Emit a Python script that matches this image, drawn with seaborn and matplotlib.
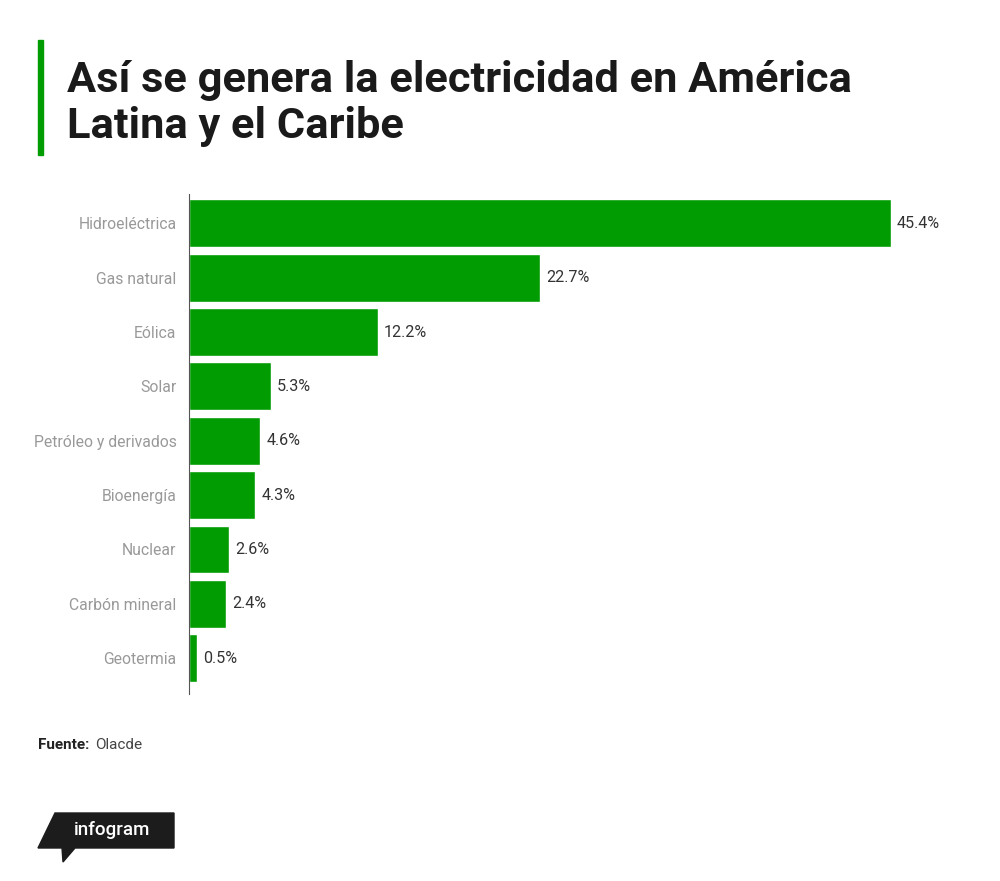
import matplotlib
matplotlib.use('Agg')
import matplotlib.pyplot as plt
from matplotlib.patches import Polygon, Rectangle
import seaborn as sns
import pandas as pd

fuentes = ['Hidroeléctrica', 'Gas natural', 'Eólica', 'Solar', 'Petróleo y derivados',
           'Bioenergía', 'Nuclear', 'Carbón mineral', 'Geotermia']
porcentajes = [45.4, 22.7, 12.2, 5.3, 4.6, 4.3, 2.6, 2.4, 0.5]
titulo = 'Así se genera la electricidad en América\nLatina y el Caribe'

df = pd.DataFrame({'fuente': fuentes, 'pct': porcentajes})

verde = '#019c01'
W, H = 1000, 881

sns.set_style('white')
plt.rcParams['font.family'] = ['Roboto', 'DejaVu Sans']

fig = plt.figure(figsize=(10, 8.81), dpi=100)
ax = fig.add_axes([0.189, 1 - 694 / H, 0.773, 500 / H])

sns.barplot(data=df, x='pct', y='fuente', color=verde, width=0.88,
            saturation=1, ax=ax, orient='h')
ax.set_xlim(0, 50)
ax.set_ylim(8.66, -0.54)
ax.set_xlabel('')
ax.set_ylabel('')
ax.set_xticks([])
for s in ['top', 'right', 'bottom']:
    ax.spines[s].set_visible(False)
ax.spines['left'].set_color('#555555')
ax.spines['left'].set_linewidth(0.8)
ax.tick_params(axis='y', length=0, pad=9, labelsize=11.3, labelcolor='#999999')

for i, v in enumerate(porcentajes):
    ax.text(v + 0.4, i, f'{v}%', va='center', ha='left', fontsize=11.6, color='#333333')

# title
fig.patches.append(Rectangle((38 / W, 1 - 155 / H), 5 / W, 115 / H,
                             transform=fig.transFigure, color=verde))
fig.text(67 / W, 1 - 147 / H, titulo, fontsize=31.2, fontweight='bold',
         color='#1a1a1a', ha='left', va='bottom', linespacing=1.17)

# source
fig.text(38 / W, 1 - 745 / H, 'Fuente:', fontsize=11, fontweight='bold',
         color='#222222', va='center')
fig.text(95 / W, 1 - 745 / H, 'Olacde', fontsize=11, color='#444444', va='center')

# infogram badge
pts = [(55, 813), (174, 813), (174, 848), (75, 848), (63, 862), (62, 848), (38, 848)]
fig.patches.append(Polygon([(x / W, 1 - y / H) for x, y in pts], closed=True,
                           transform=fig.transFigure, color='#1c1c1c'))
fig.text(112 / W, 1 - 830 / H, 'infogram', fontsize=13.5, fontweight='medium',
         color='white', ha='center', va='center', fontstretch='condensed')

fig.savefig('out.png', dpi=100, facecolor='white')
